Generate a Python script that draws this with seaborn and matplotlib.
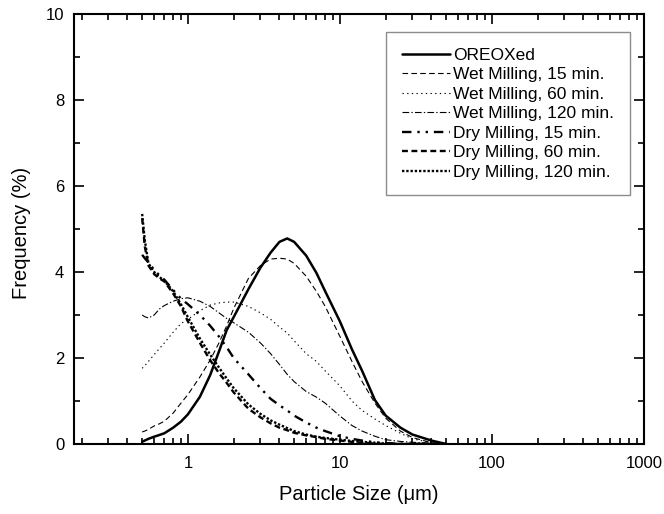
import pandas as pd
import seaborn as sns
import matplotlib.pyplot as plt
from matplotlib.ticker import LogLocator, MultipleLocator, NullFormatter, FixedLocator

# particle size grid (um)
sizes = [0.5, 0.52, 0.55, 0.6, 0.65, 0.7, 0.8, 0.9, 1.0, 1.2, 1.4, 1.6, 1.8, 2.0,
         2.5, 3.0, 3.5, 4.0, 4.5, 5.0, 6.0, 7.0, 8.0, 10, 12, 14, 17, 20, 25, 30, 40, 50]

oreoxed = [0.05, 0.08, 0.12, 0.17, 0.21, 0.25, 0.38, 0.52, 0.69, 1.1, 1.6, 2.15, 2.65, 2.95,
           3.6, 4.1, 4.45, 4.7, 4.78, 4.7, 4.38, 3.98, 3.55, 2.85, 2.2, 1.7, 1.02, 0.66, 0.38, 0.22, 0.08, 0.0]
wet_15 = [0.28, 0.3, 0.34, 0.42, 0.47, 0.53, 0.72, 0.95, 1.15, 1.56, 1.95, 2.35, 2.75, 3.15,
          3.85, 4.15, 4.3, 4.32, 4.3, 4.2, 3.9, 3.55, 3.2, 2.5, 1.92, 1.45, 0.95, 0.6, 0.3, 0.15, 0.03, 0.0]
wet_60 = [1.76, 1.82, 1.92, 2.08, 2.22, 2.35, 2.6, 2.8, 2.9, 3.1, 3.23, 3.28, 3.3, 3.3,
          3.2, 3.05, 2.9, 2.72, 2.58, 2.4, 2.1, 1.92, 1.7, 1.35, 1.0, 0.78, 0.58, 0.43, 0.25, 0.12, 0.03, 0.0]
wet_120 = [3.0, 2.96, 2.93, 3.0, 3.14, 3.22, 3.32, 3.38, 3.4, 3.32, 3.2, 3.05, 2.92, 2.82,
           2.6, 2.35, 2.1, 1.85, 1.62, 1.45, 1.22, 1.09, 0.95, 0.65, 0.43, 0.3, 0.18, 0.1, 0.06, 0.04, 0.02, 0.0]
dry_15 = [4.4, 4.32, 4.22, 4.05, 3.92, 3.82, 3.58, 3.38, 3.25, 3.0, 2.75, 2.5, 2.25, 2.0,
          1.62, 1.3, 1.05, 0.9, 0.78, 0.66, 0.5, 0.38, 0.3, 0.18, 0.12, 0.08, 0.04, 0.02, 0.01, 0.0, 0.0, 0.0]
dry_60 = [5.25, 4.6, 4.15, 3.95, 3.85, 3.78, 3.5, 3.2, 2.85, 2.35, 1.95, 1.65, 1.42, 1.2,
          0.82, 0.62, 0.48, 0.38, 0.32, 0.26, 0.2, 0.16, 0.12, 0.08, 0.05, 0.03, 0.01, 0.0, 0.0, 0.0, 0.0, 0.0]
dry_120 = [5.35, 4.75, 4.2, 4.0, 3.88, 3.8, 3.55, 3.25, 2.95, 2.45, 2.08, 1.78, 1.52, 1.3,
           0.92, 0.7, 0.55, 0.45, 0.37, 0.3, 0.22, 0.17, 0.14, 0.1, 0.07, 0.05, 0.03, 0.01, 0.0, 0.0, 0.0, 0.0]

labels = ['OREOXed', 'Wet Milling, 15 min.', 'Wet Milling, 60 min.', 'Wet Milling, 120 min.',
          'Dry Milling, 15 min.', 'Dry Milling, 60 min.', 'Dry Milling, 120 min.']
series = [oreoxed, wet_15, wet_60, wet_120, dry_15, dry_60, dry_120]

frames = []
for lab, vals in zip(labels, series):
    frames.append(pd.DataFrame({'size': sizes, 'freq': vals, 'sample': lab}))
df = pd.concat(frames, ignore_index=True)

sns.set_style('ticks', {'xtick.direction': 'in', 'ytick.direction': 'in'})
plt.rcParams['font.family'] = ['Liberation Sans', 'DejaVu Sans']
plt.rcParams.update({'text.color': 'black', 'axes.labelcolor': 'black',
                     'xtick.color': 'black', 'ytick.color': 'black',
                     'axes.edgecolor': 'black'})

dash_map = {
    labels[0]: '',
    labels[1]: (5, 3),
    labels[2]: (1.2, 3),
    labels[3]: (6, 2, 1.2, 2),
    labels[4]: (4, 2.5, 1, 2.5, 1, 2.5),
    labels[5]: (2.5, 1.5),
    labels[6]: (1, 0.8),
}
width_map = {labels[0]: 1.8, labels[1]: 0.8, labels[2]: 0.8, labels[3]: 0.8,
             labels[4]: 1.7, labels[5]: 1.7, labels[6]: 1.7}
palette = {lab: 'black' for lab in labels}

fig = plt.figure(figsize=(6.64, 5.14), dpi=100)
ax = fig.add_axes([0.1114, 0.1362, 0.8584, 0.8366])

sns.lineplot(data=df, x='size', y='freq', hue='sample', style='sample', size='sample',
             palette=palette, dashes=dash_map, sizes=width_map, hue_order=labels,
             style_order=labels, size_order=labels, errorbar=None, ax=ax)

ax.set_xscale('log')
ax.set_xlim(0.178, 1000)
ax.set_ylim(0, 10)

ax.xaxis.set_major_locator(FixedLocator([0.1, 1, 10, 100, 1000]))
ax.xaxis.set_minor_locator(LogLocator(base=10, subs=range(2, 10)))
ax.xaxis.set_minor_formatter(NullFormatter())
ax.set_xticklabels(['0.1', '1', '10', '100', '1000'])
ax.yaxis.set_major_locator(MultipleLocator(2))
ax.yaxis.set_minor_locator(MultipleLocator(1))

ax.tick_params(which='both', direction='in', top=True, right=True, labelsize=12, pad=7, width=1.2,
               colors='black')
ax.tick_params(axis='x', which='both', pad=9)
ax.tick_params(which='major', length=7)
ax.tick_params(which='minor', length=4.5)
for s in ax.spines.values():
    s.set_linewidth(1.5)
    s.set_visible(True)
    s.set_color('black')

ax.set_xlabel('Particle Size (\u03bcm)', fontsize=14.5)
ax.set_ylabel('Frequency (%)', fontsize=14.5)
ax.xaxis.set_label_coords(0.5, -0.095)
ax.yaxis.set_label_coords(-0.075, 0.49)

handles, labs = ax.get_legend_handles_labels()
leg = ax.legend(handles, labs, loc='upper right', bbox_to_anchor=(0.975, 0.958), borderaxespad=0,
                fontsize=12.5, frameon=True, fancybox=False, edgecolor='#707070',
                handlelength=2.8, handletextpad=0.15, labelspacing=0.25, borderpad=0.9)
leg.get_frame().set_linewidth(1.0)

plt.savefig('out.png', dpi=100)
